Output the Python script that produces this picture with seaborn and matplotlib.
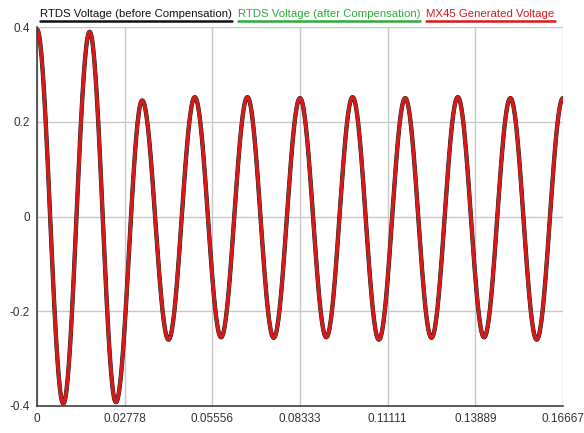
import numpy as np
import pandas as pd
import matplotlib
matplotlib.use("Agg")
import matplotlib.pyplot as plt
import seaborn as sns
from matplotlib.lines import Line2D

# Waveform extrema (60 Hz): time of each peak/trough and its voltage
extrema_t = [0.0, 0.00833, 0.01667, 0.025, 0.03333, 0.04167, 0.05, 0.05833,
             0.06667, 0.075, 0.08333, 0.09167, 0.1, 0.10833, 0.11667, 0.125,
             0.13333, 0.14167, 0.15, 0.15833, 0.16667]
extrema_v = [0.395, -0.395, 0.39, -0.392, 0.245, -0.26, 0.252, -0.255,
             0.252, -0.256, 0.25, -0.255, 0.252, -0.26, 0.25, -0.256,
             0.252, -0.255, 0.25, -0.26, 0.25]

series_names = ["RTDS Voltage (before Compensation)",
                "RTDS Voltage (after Compensation)",
                "MX45 Generated Voltage"]
series_colors = ["#111111", "#2eaa3a", "#d8191c"]
series_widths = [3.1, 2.0, 2.4]

x_ticks = [0, 0.02778, 0.05556, 0.08333, 0.11111, 0.13889, 0.16667]
x_tick_labels = ["0", "0.02778", "0.05556", "0.08333", "0.11111", "0.13889", "0.16667"]
y_ticks = [-0.4, -0.2, 0, 0.2, 0.4]
y_tick_labels = ["-0.4", "-0.2", "0", "0.2", "0.4"]


def half_cosine_trace(tk, vk, n=40):
    """Smooth sinusoidal half-cycles joining consecutive extrema."""
    ts, vs = [], []
    for i in range(len(tk) - 1):
        s = np.linspace(0, 1, n, endpoint=False)
        ts.append(tk[i] + (tk[i + 1] - tk[i]) * s)
        vs.append(vk[i] + (vk[i + 1] - vk[i]) * (1 - np.cos(np.pi * s)) / 2)
    ts.append([tk[-1]])
    vs.append([vk[-1]])
    return np.concatenate(ts), np.concatenate(vs)


t, v = half_cosine_trace(extrema_t, extrema_v)
frames = [pd.DataFrame({"time": t, "voltage": v, "series": name}) for name in series_names]
df = pd.concat(frames, ignore_index=True)

sns.set_theme(style="white")
plt.rcParams["font.family"] = ["Liberation Sans", "DejaVu Sans"]

fig = plt.figure(figsize=(5.84, 4.33), dpi=100)
ax = fig.add_axes([37 / 584, 27 / 433, (563 - 37) / 584, (406 - 27) / 433])

for name, color, lw in zip(series_names, series_colors, series_widths):
    sns.lineplot(data=df[df["series"] == name], x="time", y="voltage",
                 color=color, linewidth=lw, ax=ax, legend=False,
                 solid_capstyle="round")

ax.set_xlim(0, 0.16667)
ax.set_ylim(-0.4, 0.4)
ax.set_xticks(x_ticks)
ax.set_xticklabels(x_tick_labels)
ax.set_yticks(y_ticks)
ax.set_yticklabels(y_tick_labels)
ax.set_xlabel("")
ax.set_ylabel("")
ax.tick_params(axis="both", length=0, labelsize=8.5, colors="#333333", pad=5)

ax.grid(True, color="#c8c8c8", linewidth=1.0)
ax.set_axisbelow(True)
for side in ["top", "right"]:
    ax.spines[side].set_visible(False)
for side in ["left", "bottom"]:
    ax.spines[side].set_color("#404040")
    ax.spines[side].set_linewidth(1.2)

# Header legend: coloured labels with matching underlines
fig.canvas.draw()
renderer = fig.canvas.get_renderer()
x_pos = 40 / 584
for name, color in zip(series_names, series_colors):
    txt = fig.text(x_pos, 1 - 17 / 433, name, color=color, fontsize=8.2,
                   ha="left", va="baseline")
    bb = txt.get_window_extent(renderer)
    x0, x1 = bb.x0 / fig.bbox.width, bb.x1 / fig.bbox.width
    y_line = 1 - 21 / 433
    fig.add_artist(Line2D([x0, x1], [y_line, y_line], color=color,
                          linewidth=1.8, transform=fig.transFigure))
    x_pos = x1 + 6 / 584

fig.savefig("out.png", dpi=100, facecolor="white")
